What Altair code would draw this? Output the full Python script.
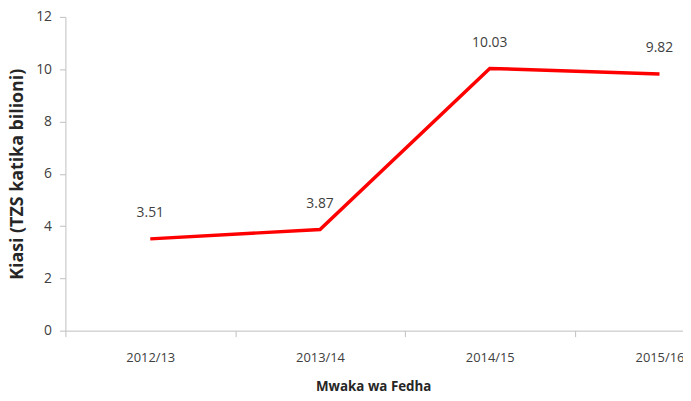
import altair as alt
import pandas as pd

years = ["2012/13", "2013/14", "2014/15", "2015/16"]
values = [3.51, 3.87, 10.03, 9.82]

df = pd.DataFrame({"year": years, "value": values})

FONT = "Open Sans"
GRAY = "#404040"
AXIS = "#bfbfbf"

x = alt.X(
    "year:N",
    sort=years,
    scale=alt.Scale(range=[0, 686], paddingInner=0, paddingOuter=0),
    axis=alt.Axis(
        title="Mwaka wa Fedha",
        labelAngle=0,
        tickBand="extent",
        labelPadding=15,
        labelFontSize=13,
        titlePadding=15,
        titleX=311,
    ),
)
y = alt.Y(
    "value:Q",
    scale=alt.Scale(domain=[0, 12], nice=False),
    axis=alt.Axis(
        title="Kiasi (TZS katika bilioni)",
        values=[0, 2, 4, 6, 8, 10, 12],
        grid=False,
        labelPadding=8,
        labelFontSize=14,
        titleFontSize=18,
        titleX=-48,
        titleBaseline="middle",
    ),
)

base = alt.Chart(df)
line = base.mark_line(color="#ff0000", strokeWidth=3.5).encode(x=x, y=y)
labels = base.mark_text(
    dy=-26, fontSize=14, font=FONT, color=GRAY, align="center"
).encode(x=x, y=y, text=alt.Text("value:Q", format=".2f"))

chart = (
    alt.layer(line, labels)
    .properties(
        width=624,
        height=317,
        autosize=alt.AutoSizeParams(type="none"),
        padding={"left": 58, "top": 7, "right": 0, "bottom": 62},
    )
    .configure_view(stroke=None)
    .configure_axis(
        domainColor=AXIS,
        tickColor=AXIS,
        tickSize=6,
        labelFont=FONT,
        labelColor=GRAY,
        titleFont=FONT,
        titleFontSize=13.5,
        titleFontWeight="bold",
        titleColor="#262626",
    )
)

chart.save("out.html", embed_options={"renderer": "svg", "actions": False})
